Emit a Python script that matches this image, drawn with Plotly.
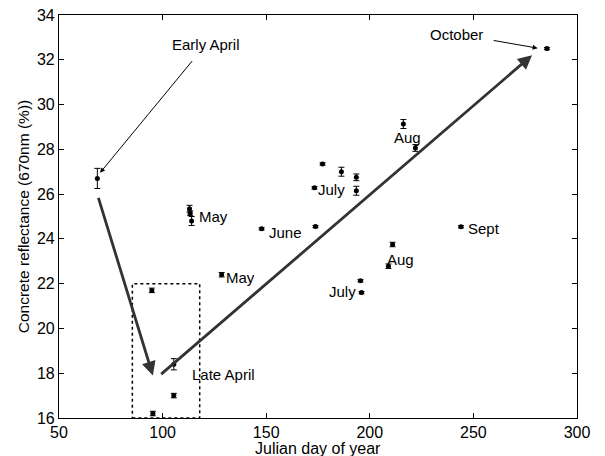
import plotly.graph_objects as go

FONT = "Liberation Sans, Arial, sans-serif"

# Data points (Julian day, reflectance %)
day = [68.5, 94.8, 105.4, 105.4, 95.3, 113.0, 113.3, 114.0, 128.5, 147.8, 173.8,
       177.2, 186.3, 193.5, 173.3, 193.5, 216.2, 222.0, 244.0, 211.0, 209.0,
       195.5, 196.0, 285.5]
refl = [26.7, 21.7, 18.4, 17.0, 16.2, 25.35, 25.15, 24.8, 22.4, 24.45, 24.55,
        27.35, 27.0, 26.75, 26.28, 26.15, 29.13, 28.06, 24.54, 23.75, 22.78,
        22.13, 21.6, 32.5]
err = [0.45, 0.1, 0.25, 0.1, 0.1, 0.15, 0.1, 0.2, 0.1, 0.05, 0.05,
       0.05, 0.2, 0.15, 0.05, 0.2, 0.2, 0.15, 0.05, 0.1, 0.1,
       0.05, 0.05, 0.05]

# Month labels
lab_text = ["May", "June", "July", "Aug", "Sept", "Aug", "July", "May", "Late April"]
lab_x = [117.0, 151.0, 174.5, 211.0, 247.0, 208.0, 180.0, 130.0, 113.5]
lab_y = [25.0, 24.3, 26.2, 28.55, 24.45, 23.1, 21.65, 22.26, 17.93]

# Trend arrows (from -> to)
trend_from_x = [68.8, 98.6]
trend_from_y = [25.9, 17.9]
trend_to_x = [95.3, 278.3]
trend_to_y = [17.9, 32.2]

# Callout annotations
call_text = ["Early April", "October"]
call_tx = [121.0, 242.0]
call_ty = [32.7, 33.15]
call_px = [69.8, 281.0]
call_py = [26.95, 32.52]

# Late April box
box_x = [85.4, 117.9]
box_y = [16.0, 22.0]

x_title = "Julian day of year"
y_title = "Concrete reflectance (670nm (%))"

fig = go.Figure()
fig.add_trace(go.Scatter(
    x=day, y=refl, mode="markers",
    marker=dict(color="black", size=5, symbol="circle"),
    error_y=dict(type="data", array=err, color="black", thickness=1, width=3),
    showlegend=False,
))

annotations = []
for t, x, y in zip(lab_text, lab_x, lab_y):
    annotations.append(dict(x=x, y=y, text=t, showarrow=False, xanchor="left",
                            yanchor="middle", borderpad=0,
                            font=dict(size=15, color="black", family=FONT)))
for fx, fy, tx, ty in zip(trend_from_x, trend_from_y, trend_to_x, trend_to_y):
    annotations.append(dict(x=tx, y=ty, ax=fx, ay=fy, xref="x", yref="y",
                            axref="x", ayref="y", text="", showarrow=True,
                            arrowhead=2, arrowsize=1.0, arrowwidth=2.8,
                            arrowcolor="#333333"))
for t, tx, ty, px, py in zip(call_text, call_tx, call_ty, call_px, call_py):
    annotations.append(dict(x=px, y=py, ax=tx, ay=ty, xref="x", yref="y",
                            axref="x", ayref="y", text=t, showarrow=True,
                            arrowhead=2, arrowsize=1, arrowwidth=1,
                            arrowcolor="black", standoff=0, startstandoff=9,
                            font=dict(size=15, color="black", family=FONT)))
annotations.append(dict(x=0.5, y=-0.076, xref="paper", yref="paper", text=x_title,
                        showarrow=False, xanchor="center", yanchor="middle",
                        borderpad=0,
                        font=dict(size=16, color="black", family=FONT)))

fig.add_shape(type="rect", x0=box_x[0], x1=box_x[1], y0=box_y[0], y1=box_y[1],
              xref="x", yref="y", line=dict(color="black", width=1.5, dash="dot"))

axis_common = dict(showgrid=False, zeroline=False, showline=True, linecolor="black",
                   linewidth=1.2, mirror="ticks", ticks="inside", ticklen=5,
                   tickcolor="black", automargin=False,
                   tickfont=dict(size=16, color="black", family=FONT))

fig.update_layout(
    width=605, height=456,
    margin=dict(l=59, r=28, t=15, b=38),
    paper_bgcolor="white", plot_bgcolor="white",
    annotations=annotations,
    xaxis=dict(range=[50, 300], tickvals=[50, 100, 150, 200, 250, 300],
               ticklabelstandoff=0, **axis_common),
    yaxis=dict(range=[16, 34], tickvals=list(range(16, 35, 2)),
               title=dict(text=y_title, standoff=3,
                          font=dict(size=15.5, color="black", family=FONT)),
               **axis_common),
)

fig.write_html("out.html")
